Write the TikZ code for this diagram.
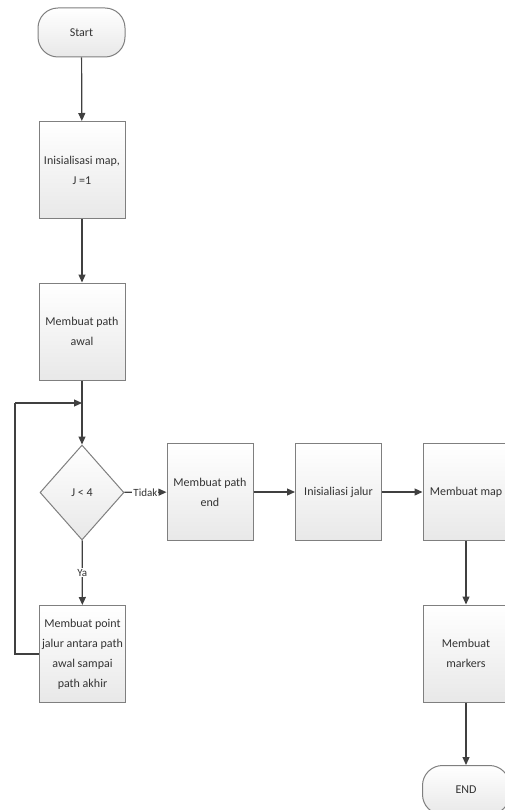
\documentclass[tikz,border=0pt]{standalone}
\usepackage{fontspec}
\setmainfont{Carlito}
\usetikzlibrary{shapes.geometric,arrows.meta}
\definecolor{edgegray}{HTML}{7F7F7F}
\definecolor{linegray}{HTML}{404040}
\definecolor{txtgray}{HTML}{333333}
\begin{document}
\begin{tikzpicture}[x=1pt,y=-1pt,
  every node/.style={font=\fontsize{12}{20}\selectfont, text=txtgray, align=center},
  procbox/.style={draw=edgegray, line width=1pt, top color=white, bottom color=black!9,
    minimum width=86pt, minimum height=97pt, inner sep=1pt},
  termbox/.style={draw=edgegray, line width=1pt, top color=white, bottom color=black!9,
    rounded corners=20pt, minimum width=87pt, minimum height=49pt},
  decbox/.style={draw=edgegray, line width=1pt, diamond, top color=white, bottom color=black!9,
    minimum width=84pt, minimum height=95pt, inner sep=0pt},
  flow/.style={draw=linegray, line width=1.2pt, -{Triangle[width=7pt,length=8pt]}},
  plain/.style={draw=linegray, line width=1.2pt},
  lbl/.style={fill=white, inner sep=1pt, font=\fontsize{11}{13}\selectfont}
]
\useasboundingbox (0,0) rectangle (505,810);
\node[termbox] (start) at (81.5,32.5) {Start};
\node[procbox] (init) at (82,170) {Inisialisasi map,\\J =1};
\node[procbox] (awal) at (82,331.5) {Membuat path\\awal};
\node[decbox] (cond) at (82,492.5) {J < 4};
\node[procbox] (point) at (82.5,654) {Membuat point\\jalur antara path\\awal sampai\\path akhir};
\node[procbox] (pend) at (210,492) {Membuat path\\end};
\node[procbox] (jalur) at (338.5,492) {Inisialiasi jalur};
\node[procbox] (map) at (466,492) {Membuat map};
\node[procbox] (markers) at (466,653.5) {Membuat\\markers};
\node[termbox] (end) at (466,790) {END};
\coordinate (loopin) at (82,403);
\coordinate (lb) at (15,654);
\coordinate (lt) at (15,403);

\draw[flow] (start) -- (init);
\draw[flow] (init) -- (awal);
\draw[flow] (awal) -- (cond);
\draw[flow] (cond) -- node[lbl] {Tidak} (pend);
\draw[flow] (cond) -- node[lbl, pos=0.5] {Ya} (point);
\draw[plain] (point.west) -- (lb) -- (lt);
\draw[flow] (lt) -- (loopin);
\draw[flow] (pend) -- (jalur);
\draw[flow] (jalur) -- (map);
\draw[flow] (map) -- (markers);
\draw[flow] (markers) -- (end);
\end{tikzpicture}
\end{document}
